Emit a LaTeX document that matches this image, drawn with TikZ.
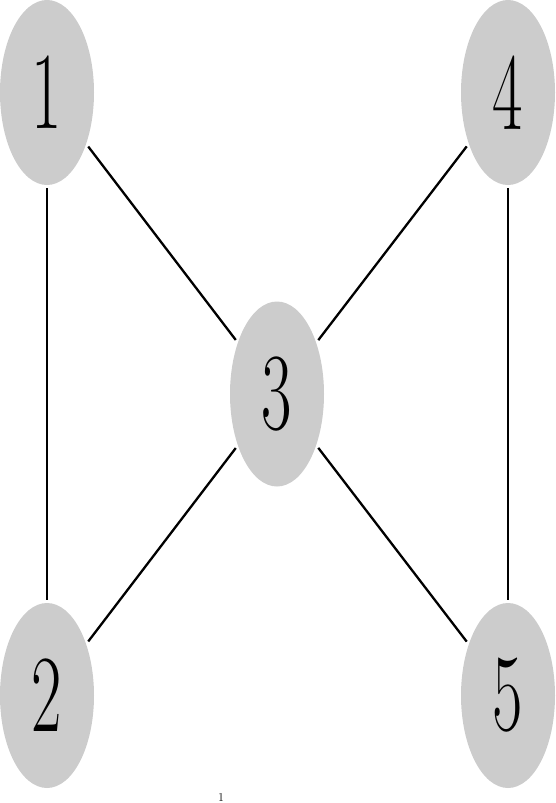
\documentclass[tikz,border=0pt]{standalone}
\usetikzlibrary{shapes.geometric}
\newcommand{\narrowdigit}[1]{\scalebox{0.6}[1]{#1}}
\begin{document}
\begin{tikzpicture}[x=1pt,y=-1pt,
  vertex/.style={ellipse,fill=black!20,draw=none,minimum width=94pt,minimum height=185pt,inner sep=0pt,outer sep=3pt,font=\fontsize{110}{120}\selectfont},
  edge/.style={line width=2.3pt}]
\useasboundingbox (0,0) rectangle (555,803);
\node[vertex] (n1) at (47,92.5) {\narrowdigit{1}};
\node[vertex] (n2) at (47,695.5) {\narrowdigit{2}};
\node[vertex] (n3) at (277,394) {\narrowdigit{3}};
\node[vertex] (n4) at (508,92.5) {\narrowdigit{4}};
\node[vertex] (n5) at (508,695.5) {\narrowdigit{5}};
\draw[edge] (n1) -- (n2);
\draw[edge] (n1) -- (n3);
\draw[edge] (n2) -- (n3);
\draw[edge] (n4) -- (n3);
\draw[edge] (n5) -- (n3);
\draw[edge] (n4) -- (n5);
\node[font=\fontsize{12}{13}\selectfont,inner sep=0pt] (pg) at (221,797) {1};
\end{tikzpicture}
\end{document}
